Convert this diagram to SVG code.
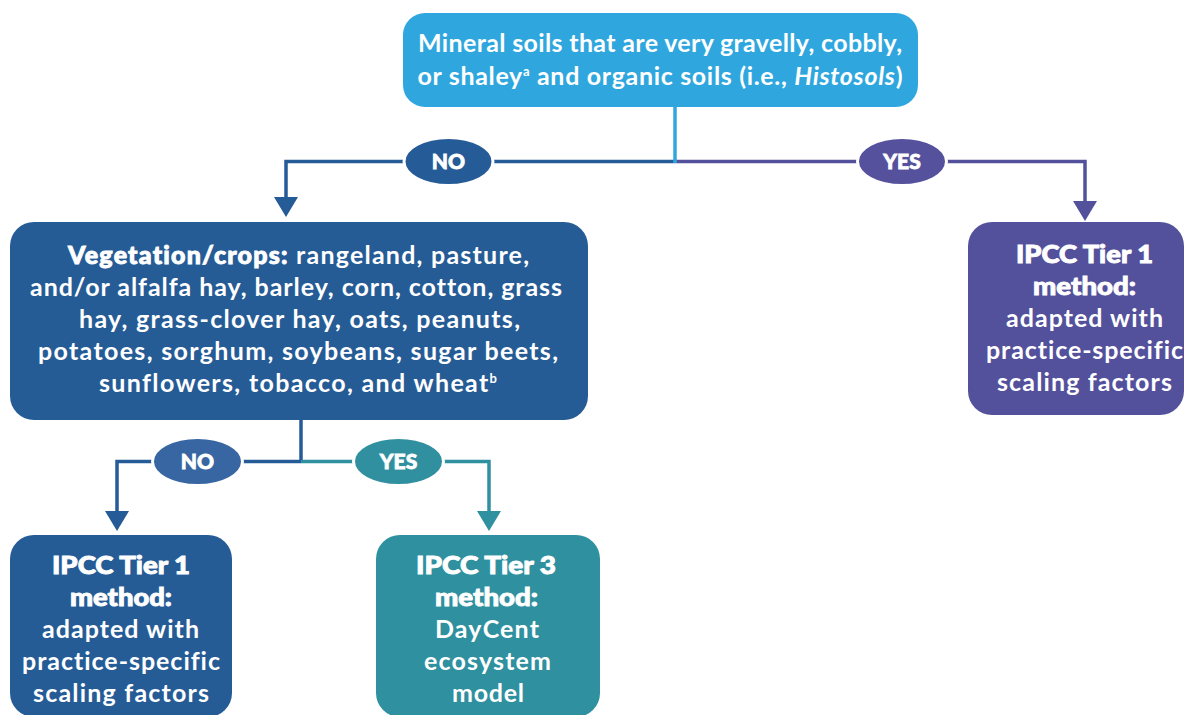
<svg xmlns="http://www.w3.org/2000/svg" width="1184" height="715" viewBox="0 0 1184 715">
<defs>
<style>
.t{font-family:Lato,"Open Sans","Liberation Sans",sans-serif;fill:#fff;font-weight:700;font-size:25px;text-anchor:middle;font-variant-ligatures:none}
.h{font-weight:900;stroke:#fff;stroke-width:0.9}
.lbl{font-family:Lato,"Open Sans","Liberation Sans",sans-serif;fill:#fff;font-weight:900;font-size:21px;text-anchor:middle;stroke:#fff;stroke-width:0.8}
.ln{fill:none;stroke-width:3.5}
.sup{font-size:13px}
</style>
</defs>
<rect width="1184" height="715" fill="#fff"/>
<g id="connectors">
<path class="ln" stroke="#255b96" d="M675 161.5 H286 V200"/>
<path class="ln" stroke="#54519c" d="M675 161.5 H1085 V204"/>
<path class="ln" stroke="#2fa7de" d="M675 105 V163"/>
<polygon points="274,197 298,197 286,217" fill="#255b96"/>
<polygon points="1073,201 1097,201 1085,221" fill="#54519c"/>
<path class="ln" stroke="#255b96" d="M301 418 V463"/>
<path class="ln" stroke="#255b96" d="M301 461.5 H117 V513"/>
<path class="ln" stroke="#2f90a0" d="M301 461.5 H489 V513"/>
<polygon points="105,511 129,511 117,531" fill="#255b96"/>
<polygon points="477,511 501,511 489,531" fill="#2f90a0"/>
<g id="lbl-no1"><ellipse cx="448.5" cy="161.5" rx="44.5" ry="24" fill="#255b96" stroke="#fff" stroke-width="3"/><text class="lbl" x="448.5" y="169">NO</text></g>
<g id="lbl-yes1"><ellipse cx="902" cy="161.5" rx="44.5" ry="24" fill="#56519d" stroke="#fff" stroke-width="3"/><text class="lbl" x="902" y="169">YES</text></g>
<g id="lbl-no2"><ellipse cx="197.5" cy="461.5" rx="45" ry="24" fill="#3766a2" stroke="#fff" stroke-width="3"/><text class="lbl" x="197.5" y="469">NO</text></g>
<g id="lbl-yes2"><ellipse cx="398.5" cy="461.5" rx="45" ry="24" fill="#3190a0" stroke="#fff" stroke-width="3"/><text class="lbl" x="398.5" y="469">YES</text></g>
</g>
<g id="node-top">
<rect x="403" y="13" width="515" height="94" rx="22" fill="#2fa7de"/>
<text class="t" x="660" y="52" textLength="484">Mineral soils that are very gravelly, cobbly,</text>
<text class="t" x="660" y="85" textLength="485">or shaley<tspan class="sup" dy="-9">a</tspan><tspan dy="9"> and organic soils (i.e., </tspan><tspan font-style="italic">Histosols</tspan>)</text>
</g>
<g id="node-veg">
<rect x="10" y="222" width="578" height="198" rx="24" fill="#265c96"/>
<text class="t" x="298.5" y="264" textLength="461"><tspan class="h">Vegetation/crops:</tspan> rangeland, pasture,</text>
<text class="t" x="296" y="296" textLength="532">and/or alfalfa hay, barley, corn, cotton, grass</text>
<text class="t" x="299.5" y="328" textLength="441">hay, grass-clover hay, oats, peanuts,</text>
<text class="t" x="298" y="360" textLength="520">potatoes, sorghum, soybeans, sugar beets,</text>
<text class="t" x="298" y="392" textLength="398">sunflowers, tobacco, and wheat<tspan class="sup" dy="-9">b</tspan></text>
</g>
<g id="node-tier1-right">
<rect x="968" y="222" width="216" height="193" rx="24" fill="#54519c"/>
<text class="t h" x="1084.5" y="263" textLength="137" lengthAdjust="spacingAndGlyphs">IPCC Tier 1</text>
<text class="t h" x="1084.5" y="295" textLength="103" lengthAdjust="spacingAndGlyphs">method:</text>
<text class="t" x="1084.5" y="327" textLength="157">adapted with</text>
<text class="t" x="1084.5" y="359" textLength="197">practice-specific</text>
<text class="t" x="1084.5" y="391" textLength="175">scaling factors</text>
</g>
<g id="node-tier1-left">
<rect x="10" y="535" width="222" height="182" rx="24" fill="#265c96"/>
<text class="t h" x="121" y="574" textLength="138" lengthAdjust="spacingAndGlyphs">IPCC Tier 1</text>
<text class="t h" x="121" y="606" textLength="102" lengthAdjust="spacingAndGlyphs">method:</text>
<text class="t" x="120.5" y="638" textLength="157">adapted with</text>
<text class="t" x="121" y="670" textLength="198">practice-specific</text>
<text class="t" x="121" y="702" textLength="176">scaling factors</text>
</g>
<g id="node-tier3">
<rect x="376" y="535" width="224" height="182" rx="24" fill="#2f90a0"/>
<text class="t h" x="486" y="574" textLength="140" lengthAdjust="spacingAndGlyphs">IPCC Tier 3</text>
<text class="t h" x="486.5" y="606" textLength="103" lengthAdjust="spacingAndGlyphs">method:</text>
<text class="t" x="487" y="638" textLength="104">DayCent</text>
<text class="t" x="487.5" y="670" textLength="127">ecosystem</text>
<text class="t" x="488" y="702" textLength="72">model</text>
</g>
</svg>
